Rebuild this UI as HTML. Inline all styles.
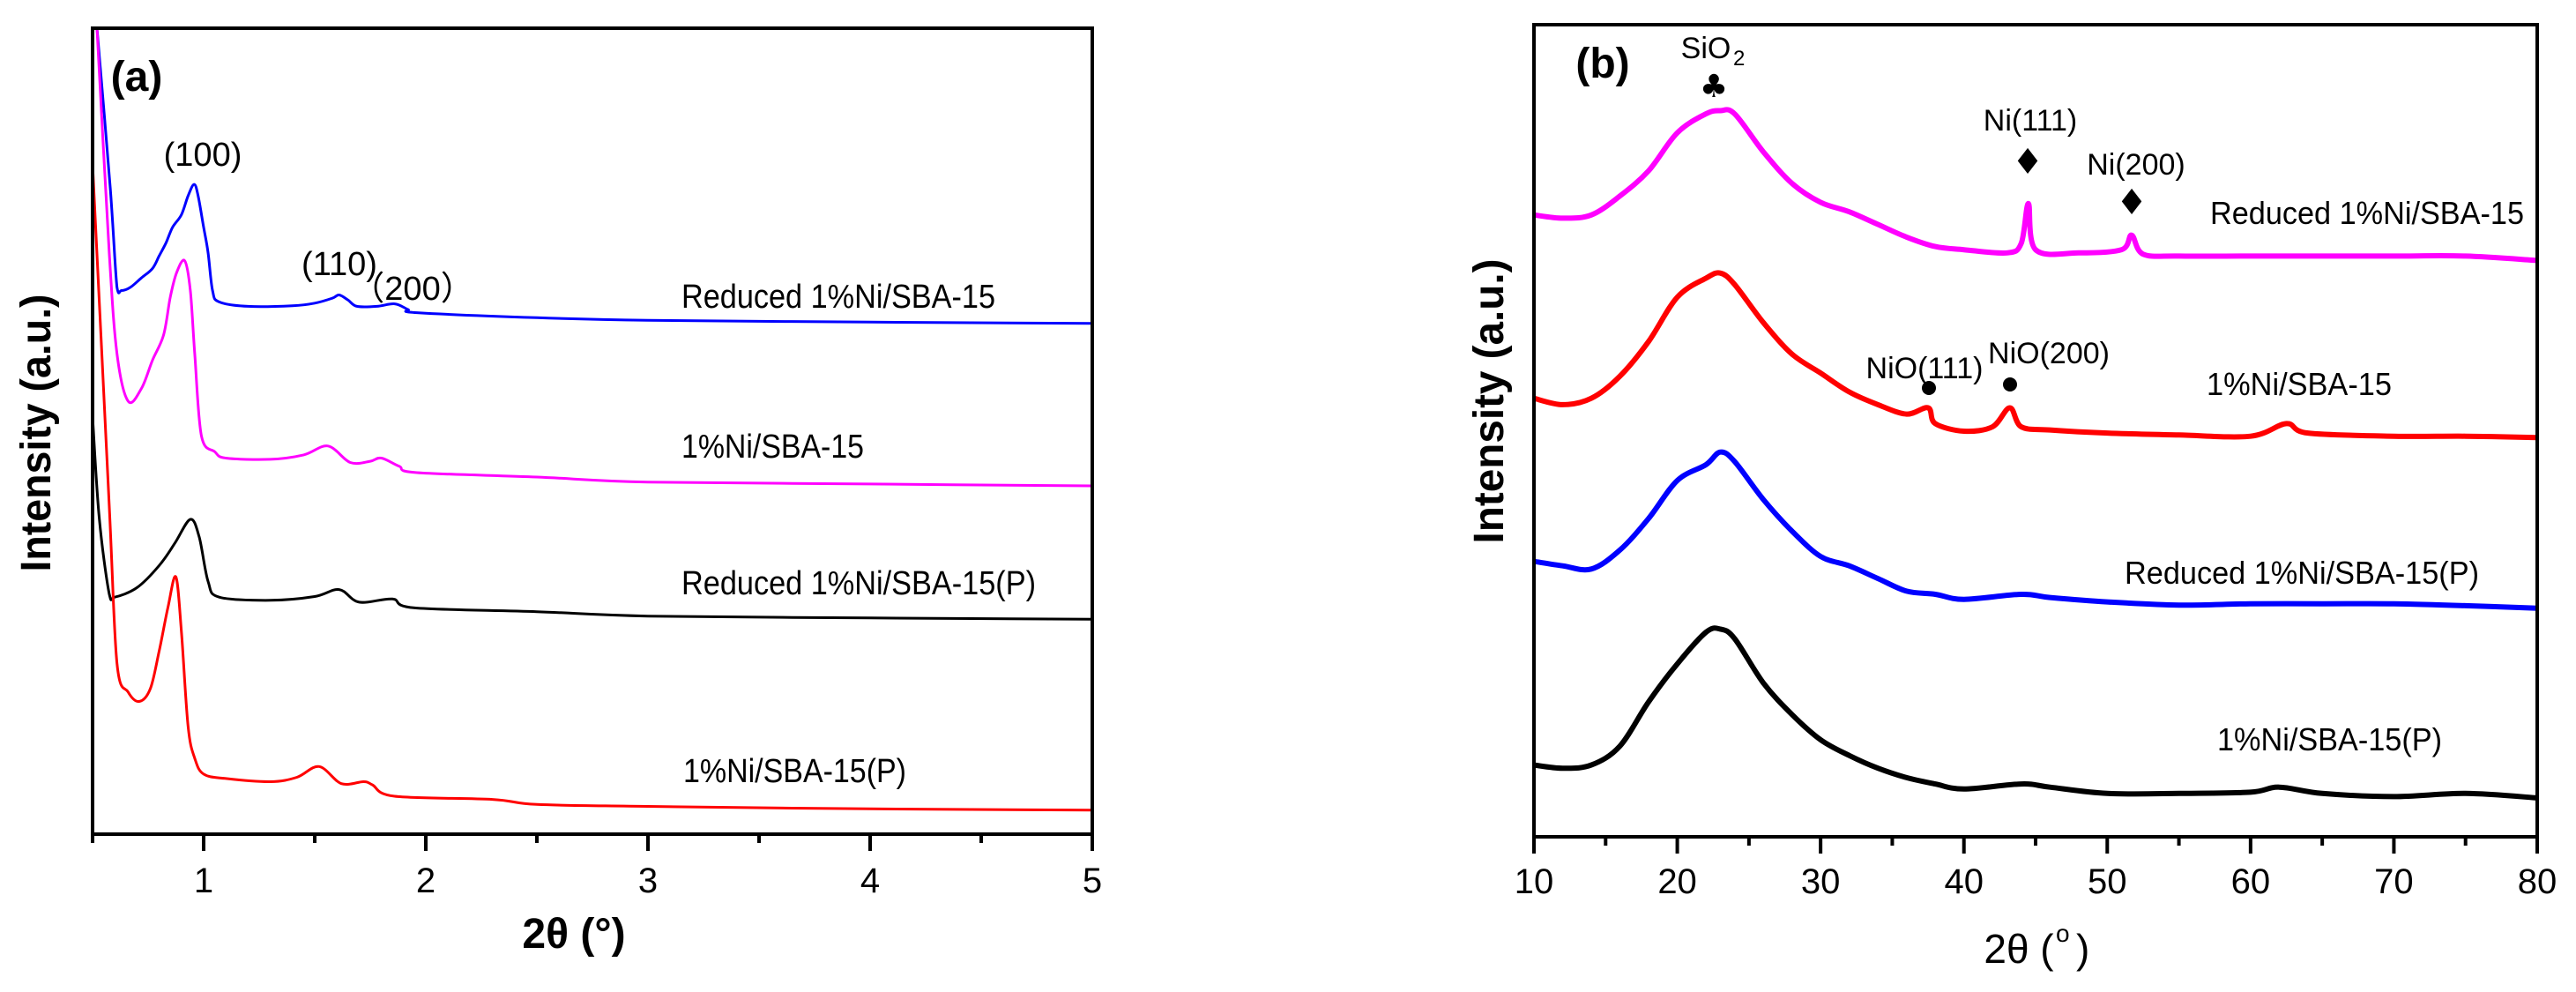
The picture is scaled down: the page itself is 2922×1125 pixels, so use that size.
<!DOCTYPE html>
<html><head><meta charset="utf-8"><style>
html,body{margin:0;padding:0;background:#fff;}
svg{display:block;font-family:"Liberation Sans",Arial,sans-serif;}
</style></head><body>
<svg id="fig" width="2922" height="1125" viewBox="0 0 2922 1125" xmlns="http://www.w3.org/2000/svg">
<g id="pa"></g>
<g id="pb"></g>
</svg>
<script>
// ---------- Panel (a) data: small-angle XRD ----------
const aTicks = [1, 2, 3, 4, 5];
const aBlueX = [0.52,0.58,0.61,0.63,0.67,0.72,0.77,0.80,0.83,0.86,0.90,0.93,0.957,0.975,1.0,1.02,1.04,1.07,1.2,1.4,1.5,1.58,1.61,1.65,1.69,1.78,1.86,1.92,1.96,2.5,3.0,4.0,5.0];
const aBlueY = [1275,1020,865,860,865,880,895,915,935,960,980,1010,1028,1010,960,920,860,842,835,836,840,848,853,845,835,835,839,830,825,817,813,810,808];
const aMagX = [0.52,0.575,0.61,0.66,0.72,0.77,0.82,0.85,0.88,0.915,0.94,0.96,0.99,1.05,1.1,1.3,1.45,1.56,1.66,1.75,1.80,1.88,1.96,2.5,3.0,4.0,5.0];
const aMagY = [1275,920,760,685,705,750,790,850,890,907,860,760,630,605,595,593,600,614,588,590,595,582,572,565,557,554,551];
const aBlkX = [0.5,0.53,0.575,0.6,0.7,0.8,0.87,0.94,0.98,1.02,1.07,1.3,1.5,1.61,1.7,1.85,1.95,2.5,3.0,4.0,5.0];
const aBlkY = [660,500,380,375,390,425,460,498,470,400,375,370,376,387,367,372,358,352,345,342,340];
const aRedX = [0.5,0.575,0.61,0.66,0.71,0.76,0.80,0.84,0.875,0.9,0.93,0.96,1.0,1.1,1.3,1.42,1.52,1.62,1.72,1.76,1.86,2.3,2.5,3.0,4.0,5.0];
const aRedY = [1060,520,270,225,210,230,290,360,407,320,170,120,95,88,83,90,107,80,83,78,60,55,47,44,40,38];

// ---------- Panel (b) data: wide-angle XRD ----------
const bTicks = [10,20,30,40,50,60,70,80];
const bMagX = [10,12,14,16,18,20,22,23,24,26,28,30,32,34,36,38,40,43,44,44.5,45,48,51,51.7,52.5,55,60,65,70,75,80];
const bMagZ = [340,345,340,310,270,210,180,175,180,240,290,320,335,355,375,390,395,400,385,322,395,400,395,372,402,405,405,405,405,405,412];
const bRedX = [10,12,14,16,18,20,22,23,24,26,28,30,32,34,36,37.5,38,40,42,43.2,44,46,50,55,60,62.5,64,70,75,80];
const bRedZ = [630,640,630,595,540,470,440,432,450,510,560,590,620,640,655,645,670,682,675,645,675,680,685,688,690,670,685,690,690,692];
const bBluX = [10,12,14,16,18,20,22,23,24,26,28,30,32,34,36,38,40,44,46,50,55,60,65,70,75,80];
const bBluZ = [888,895,900,870,820,760,735,715,730,790,840,880,895,915,935,940,948,940,945,952,957,955,955,955,958,962];
const bBlkX = [10,12,14,16,18,20,22,23,24,26,28,30,32,34,36,38,40,44,46,50,55,60,62,65,70,75,80];
const bBlkZ = [1210,1215,1210,1180,1110,1050,1000,995,1010,1080,1130,1170,1195,1215,1230,1240,1248,1240,1245,1255,1255,1253,1245,1255,1260,1255,1262];

const NS = "http://www.w3.org/2000/svg";
function mk(parent, tag, attrs, text){
  const e = document.createElementNS(NS, tag);
  for (const k in attrs) e.setAttribute(k, attrs[k]);
  if (text !== undefined) e.textContent = text;
  parent.appendChild(e);
  return e;
}
function spline(pts){
  let d = "M" + pts[0][0].toFixed(1) + "," + pts[0][1].toFixed(1);
  for (let i=0;i<pts.length-1;i++){
    const p0=pts[Math.max(0,i-1)], p1=pts[i], p2=pts[i+1], p3=pts[Math.min(pts.length-1,i+2)];
    let c1=[p1[0]+(p2[0]-p0[0])/6, p1[1]+(p2[1]-p0[1])/6];
    let c2=[p2[0]-(p3[0]-p1[0])/6, p2[1]-(p3[1]-p1[1])/6];
    // limit overshoot in y
    const lo=Math.min(p1[1],p2[1]), hi=Math.max(p1[1],p2[1]);
    c1[1]=Math.max(lo-8,Math.min(hi+8,c1[1])); c2[1]=Math.max(lo-8,Math.min(hi+8,c2[1]));
    d += " C"+c1[0].toFixed(1)+","+c1[1].toFixed(1)+" "+c2[0].toFixed(1)+","+c2[1].toFixed(1)+" "+p2[0].toFixed(1)+","+p2[1].toFixed(1);
  }
  return d;
}

// ---------- Panel (a) ----------
const pa = document.getElementById('pa');
const aL=105, aR=1239, aT=32, aB=946;
const ax = v => aL + (v-0.5)/(5-0.5)*(aR-aL);
const ay = v => aB - v*(aB-aT)/1275;
const clipA = mk(pa,'clipPath',{id:'clipA'}); mk(clipA,'rect',{x:aL,y:aT,width:aR-aL,height:aB-aT});
function curveA(xs, ys, color, name){
  const pts = xs.map((x,i)=>[ax(x), ay(ys[i])]);
  const p = mk(pa,'path',{d:spline(pts), fill:'none', stroke:color, 'stroke-width':3, 'clip-path':'url(#clipA)'});
  
  
}
curveA(aBlueX,aBlueY,'#0000ff','curve-reduced-1ni-sba15');
curveA(aMagX,aMagY,'#ff00ff','curve-1ni-sba15');
curveA(aBlkX,aBlkY,'#000000','curve-reduced-1ni-sba15-p');
curveA(aRedX,aRedY,'#ff0000','curve-1ni-sba15-p');
const fa = mk(pa,'rect',{x:aL,y:aT,width:aR-aL,height:aB-aT,fill:'none',stroke:'#000','stroke-width':4});
 
for (let v=0.5; v<=5.001; v+=0.5){
  const major = Math.abs(v-Math.round(v))<0.01;
  const t = mk(pa,'line',{x1:ax(v),x2:ax(v),y1:aB,y2:aB+(major?19:10),stroke:'#000','stroke-width':4});
   
}
aTicks.forEach(v=>{
  const t = mk(pa,'text',{x:ax(v),y:1012,'font-size':40,'text-anchor':'middle'}, String(v));
   
});
</script>
<script>
// static labels panel (a)
(function(){
const pa = document.getElementById('pa');
const NS="http://www.w3.org/2000/svg";
function T(x,y,txt,opts,name){
  const e=document.createElementNS(NS,'text');
  e.setAttribute('x',x); e.setAttribute('y',y);
  for(const k in opts) e.setAttribute(k,opts[k]);
  e.textContent=txt;
  
  
  pa.appendChild(e); return e;
}
T(155,103,'(a)',{'font-size':48,'font-weight':'bold','text-anchor':'middle'},'panel-label-a');
T(230,188,'(100)',{'font-size':38,'text-anchor':'middle'},'peak-label-100');
T(385,312,'(110)',{'font-size':38,'text-anchor':'middle'},'peak-label-110');
T(468,340,'（200）',{'font-size':38,'text-anchor':'middle','font-family':'"Liberation Sans","Noto Sans CJK SC",sans-serif'},'peak-label-200');
T(773,349,'Reduced 1%Ni/SBA-15',{'font-size':38,textLength:356,lengthAdjust:'spacingAndGlyphs'},'series-label-reduced-1ni');
T(773,519,'1%Ni/SBA-15',{'font-size':38,textLength:207,lengthAdjust:'spacingAndGlyphs'},'series-label-1ni');
T(773,674,'Reduced 1%Ni/SBA-15(P)',{'font-size':38,textLength:402,lengthAdjust:'spacingAndGlyphs'},'series-label-reduced-1ni-p');
T(775,887,'1%Ni/SBA-15(P)',{'font-size':38,textLength:253,lengthAdjust:'spacingAndGlyphs'},'series-label-1ni-p');
T(0,0,'Intensity (a.u.)',{'font-size':48,'font-weight':'bold','text-anchor':'middle',transform:'translate(57,491) rotate(-90)',textLength:315,lengthAdjust:'spacingAndGlyphs'},'y-axis-title-a');
T(651,1075,'2θ (°)',{'font-size':48,'font-weight':'bold','text-anchor':'middle'},'x-axis-title-a');
})();
</script>
<script>
// ---------- Panel (b) ----------
(function(){
const pb = document.getElementById('pb');
const NS="http://www.w3.org/2000/svg";
function mk(parent, tag, attrs, text){
  const e=document.createElementNS(NS,tag);
  for(const k in attrs) e.setAttribute(k,attrs[k]);
  if(text!==undefined) e.textContent=text;
  parent.appendChild(e); return e;
}
const bL=1740,bR=2878,bT=28,bB=949;
const bx = v => bL + (v-10)/70*(bR-bL);
const by = z => z*0.717;
function curveB(xs, zs, color, name){
  const pts = xs.map((x,i)=>[bx(x), by(zs[i])]);
  const p = mk(pb,'path',{d:spline(pts),fill:'none',stroke:color,'stroke-width':6,'stroke-linejoin':'round'});
  
  
}
curveB(bMagX,bMagZ,'#ff00ff','curve-reduced-1ni-sba15-b');
curveB(bRedX,bRedZ,'#ff0000','curve-1ni-sba15-b');
curveB(bBluX,bBluZ,'#0000ff','curve-reduced-1ni-sba15-p-b');
curveB(bBlkX,bBlkZ,'#000000','curve-1ni-sba15-p-b');
const f = mk(pb,'rect',{x:bL,y:bT,width:bR-bL,height:bB-bT,fill:'none',stroke:'#000','stroke-width':4});
 
for(let v=10; v<=80; v+=5){
  const major = v%10===0;
  const t = mk(pb,'line',{x1:bx(v),x2:bx(v),y1:bB,y2:bB+(major?19:10),stroke:'#000','stroke-width':4});
   
}
bTicks.forEach(v=>{
  const t = mk(pb,'text',{x:bx(v),y:1013,'font-size':40,'text-anchor':'middle'},String(v));
   
});
function T(x,y,txt,opts,name){
  const e=mk(pb,'text',Object.assign({x:x,y:y},opts),txt);
  
  
  return e;
}
T(1818,88,'(b)',{'font-size':48,'font-weight':'bold','text-anchor':'middle'},'panel-label-b');
T(1935,66,'SiO',{'font-size':34,'text-anchor':'middle'},'sio2-label');
T(1966,74,'2',{'font-size':24},'sio2-subscript');
T(1944,110,'♣',{'font-size':36,'text-anchor':'middle','font-family':'"DejaVu Sans",sans-serif'},'sio2-marker');
T(2303,148,'Ni(111)',{'font-size':34,'text-anchor':'middle'},'ni111-label');
T(2300,197,'♦',{'font-size':40,'text-anchor':'middle','font-family':'"DejaVu Sans",sans-serif'},'ni111-marker');
T(2423,198,'Ni(200)',{'font-size':34,'text-anchor':'middle'},'ni200-label');
T(2418,243,'♦',{'font-size':40,'text-anchor':'middle','font-family':'"DejaVu Sans",sans-serif'},'ni200-marker');
T(2183,429,'NiO(111)',{'font-size':34,'text-anchor':'middle'},'nio111-label');
T(2324,412,'NiO(200)',{'font-size':34,'text-anchor':'middle'},'nio200-label');
const c1=mk(pb,'circle',{cx:2188,cy:440,r:8,fill:'#000'});  
const c2=mk(pb,'circle',{cx:2280,cy:436,r:8,fill:'#000'});  
T(2507,254,'Reduced 1%Ni/SBA-15',{'font-size':36,textLength:356,lengthAdjust:'spacingAndGlyphs'},'series-label-reduced-1ni-b');
T(2503,448,'1%Ni/SBA-15',{'font-size':36,textLength:210,lengthAdjust:'spacingAndGlyphs'},'series-label-1ni-b');
T(2410,662,'Reduced 1%Ni/SBA-15(P)',{'font-size':36,textLength:402,lengthAdjust:'spacingAndGlyphs'},'series-label-reduced-1ni-p-b');
T(2515,851,'1%Ni/SBA-15(P)',{'font-size':36,textLength:255,lengthAdjust:'spacingAndGlyphs'},'series-label-1ni-p-b');
T(0,0,'Intensity (a.u.)',{'font-size':48,'font-weight':'bold','text-anchor':'middle',transform:'translate(1705,455) rotate(-90)',textLength:323,lengthAdjust:'spacingAndGlyphs'},'y-axis-title-b');
T(2290,1092,'2θ (',{'font-size':46,'text-anchor':'middle'},'x-axis-title-b');
T(2332,1068,'o',{'font-size':28},'x-axis-title-degree');
T(2355,1092,')',{'font-size':46},'x-axis-title-close');
})();
</script>
</body></html>
